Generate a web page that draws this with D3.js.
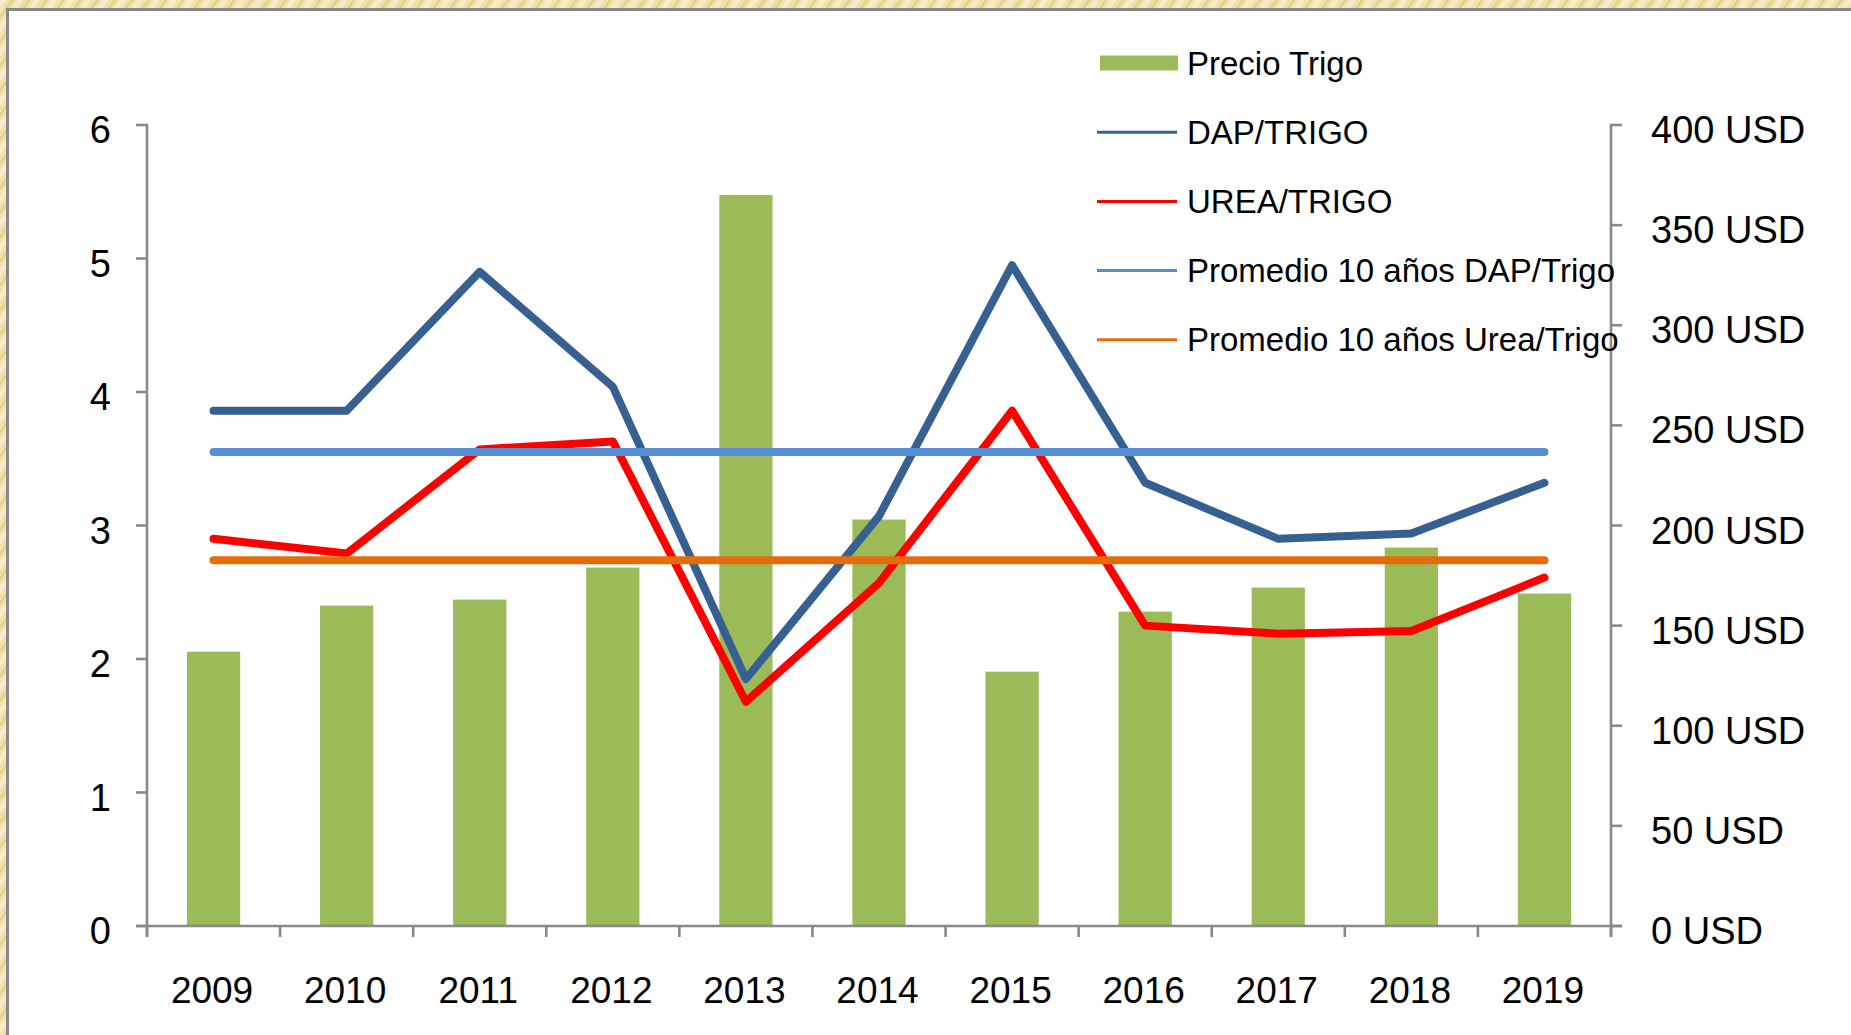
<!DOCTYPE html>
<html>
<head>
<meta charset="utf-8">
<script src="https://cdn.jsdelivr.net/npm/d3@7"></script>
<style>
  html, body { margin: 0; padding: 0; background: #efe2b2; overflow: hidden; }
  svg { display: block; }
  text { font-family: "Liberation Sans", Arial, sans-serif; fill: #000; }
</style>
</head>
<body>
<svg id="chart" width="1851" height="1035"></svg>
<script>
// Años de la serie
const years = ["2009", "2010", "2011", "2012", "2013", "2014", "2015", "2016", "2017", "2018", "2019"];
// Precio del trigo (USD/t), eje derecho
const precioTrigo = [137, 160, 163, 179, 365, 203, 127, 157, 169, 189, 166];
// Relaciones de precio insumo/grano, eje izquierdo
const dapTrigo  = [3.86, 3.86, 4.90, 4.04, 1.85, 3.07, 4.95, 3.32, 2.90, 2.94, 3.32];
const ureaTrigo = [2.90, 2.79, 3.57, 3.63, 1.68, 2.57, 3.86, 2.25, 2.19, 2.21, 2.61];
// Promedios de 10 años
const promedioDap  = 3.55;
const promedioUrea = 2.74;
// Ejes
const leftTicks  = [0, 1, 2, 3, 4, 5, 6];
const rightTicks = [0, 50, 100, 150, 200, 250, 300, 350, 400];
const legendNames = ["Precio Trigo", "DAP/TRIGO", "UREA/TRIGO",
                     "Promedio 10 años DAP/Trigo", "Promedio 10 años Urea/Trigo"];

const colors = {
  bar: "#9bbb59", dap: "#376092", urea: "#ff0000",
  avgDap: "#558ed5", avgUrea: "#e46c0a", axis: "#898989"
};

const svg = d3.select("#chart");

// Fondo tipo pergamino
const defs = svg.append("defs");
const pat = defs.append("pattern").attr("id", "parch")
  .attr("width", 14).attr("height", 14)
  .attr("patternUnits", "userSpaceOnUse")
  .attr("patternTransform", "rotate(35)");
pat.append("rect").attr("width", 14).attr("height", 14).attr("fill", "#efe0ac");
pat.append("rect").attr("width", 5).attr("height", 14).attr("fill", "#f6ecc8");
pat.append("rect").attr("x", 9).attr("width", 2).attr("height", 14).attr("fill", "#e4cd86");
svg.append("rect").attr("width", 1851).attr("height", 1035).attr("fill", "url(#parch)");

// Marco blanco del gráfico
svg.append("rect")
  .attr("x", 7.5).attr("y", 9.5).attr("width", 1900).attr("height", 1100)
  .attr("fill", "#fff").attr("stroke", "#888").attr("stroke-width", 3);

const plot = { left: 147, right: 1611, top: 125, bottom: 926 };

const x = d3.scaleBand().domain(years)
  .range([plot.left, plot.right]).paddingInner(0.6).paddingOuter(0.3);
const xCenter = d => x(d) + x.bandwidth() / 2;
const step = x.step();
const yL = d3.scaleLinear().domain([0, 6]).range([plot.bottom, plot.top]);
const yR = d3.scaleLinear().domain([0, 400]).range([plot.bottom, plot.top]);

// Barras: precio del trigo
svg.append("g").selectAll("rect").data(years).join("rect")
  .attr("x", d => x(d))
  .attr("width", x.bandwidth())
  .attr("y", (d, i) => yR(precioTrigo[i]))
  .attr("height", (d, i) => yR(0) - yR(precioTrigo[i]))
  .attr("fill", colors.bar);

// Ejes
const axisG = svg.append("g").attr("stroke", colors.axis).attr("stroke-width", 2.6).attr("fill", "none");
axisG.append("line").attr("x1", plot.left).attr("x2", plot.left)
  .attr("y1", plot.top - 1.3).attr("y2", plot.bottom + 11);
axisG.append("line").attr("x1", plot.right).attr("x2", plot.right)
  .attr("y1", plot.top - 1.3).attr("y2", plot.bottom + 11);
axisG.append("line").attr("x1", plot.left - 11).attr("x2", plot.right + 11)
  .attr("y1", plot.bottom).attr("y2", plot.bottom);
axisG.selectAll(".tl").data(leftTicks).join("line")
  .attr("x1", plot.left - 11).attr("x2", plot.left)
  .attr("y1", d => yL(d)).attr("y2", d => yL(d));
axisG.selectAll(".tr").data(rightTicks).join("line")
  .attr("x1", plot.right).attr("x2", plot.right + 11)
  .attr("y1", d => yR(d)).attr("y2", d => yR(d));
const catBounds = years.map(d => x(d) - step * 0.3).concat([plot.right]);
axisG.selectAll(".tx").data(catBounds).join("line")
  .attr("x1", d => d).attr("x2", d => d)
  .attr("y1", plot.bottom).attr("y2", plot.bottom + 11);

svg.append("g").selectAll("text").data(leftTicks).join("text")
  .attr("x", 111).attr("y", d => yL(d) + 18)
  .attr("text-anchor", "end").attr("font-size", 38)
  .text(d => d);
svg.append("g").selectAll("text").data(rightTicks).join("text")
  .attr("x", 1651).attr("y", d => yR(d) + 18)
  .attr("font-size", 38)
  .text(d => d + " USD");
svg.append("g").selectAll("text").data(years).join("text")
  .attr("x", d => xCenter(d) - 1.5).attr("y", 1003)
  .attr("text-anchor", "middle").attr("font-size", 37)
  .text(d => d);

// Líneas de relación y promedios
const line = d3.line().x(d => d[0]).y(d => d[1]);
function drawLine(values, scale, color) {
  svg.append("path")
    .attr("d", line(years.map((d, i) => [xCenter(d), scale(values[i])])))
    .attr("fill", "none").attr("stroke", color).attr("stroke-width", 8)
    .attr("stroke-linejoin", "round").attr("stroke-linecap", "round");
}
drawLine(dapTrigo, yL, colors.dap);
drawLine(ureaTrigo, yL, colors.urea);
drawLine(years.map(() => promedioDap), yL, colors.avgDap);
drawLine(years.map(() => promedioUrea), yL, colors.avgUrea);

// Leyenda
const legendColors = [colors.bar, colors.dap, colors.urea, colors.avgDap, colors.avgUrea];
const lg = svg.append("g");
legendNames.forEach((name, i) => {
  const cy = 63 + i * 69.2;
  if (i === 0) {
    lg.append("rect").attr("x", 1100).attr("y", cy - 7.5)
      .attr("width", 78).attr("height", 15).attr("fill", legendColors[i]);
  } else {
    lg.append("line").attr("x1", 1097).attr("x2", 1177)
      .attr("y1", cy).attr("y2", cy)
      .attr("stroke", legendColors[i]).attr("stroke-width", 3);
  }
  lg.append("text").attr("x", 1187).attr("y", cy + 11.5)
    .attr("font-size", 33).text(name);
});
</script>
</body>
</html>
